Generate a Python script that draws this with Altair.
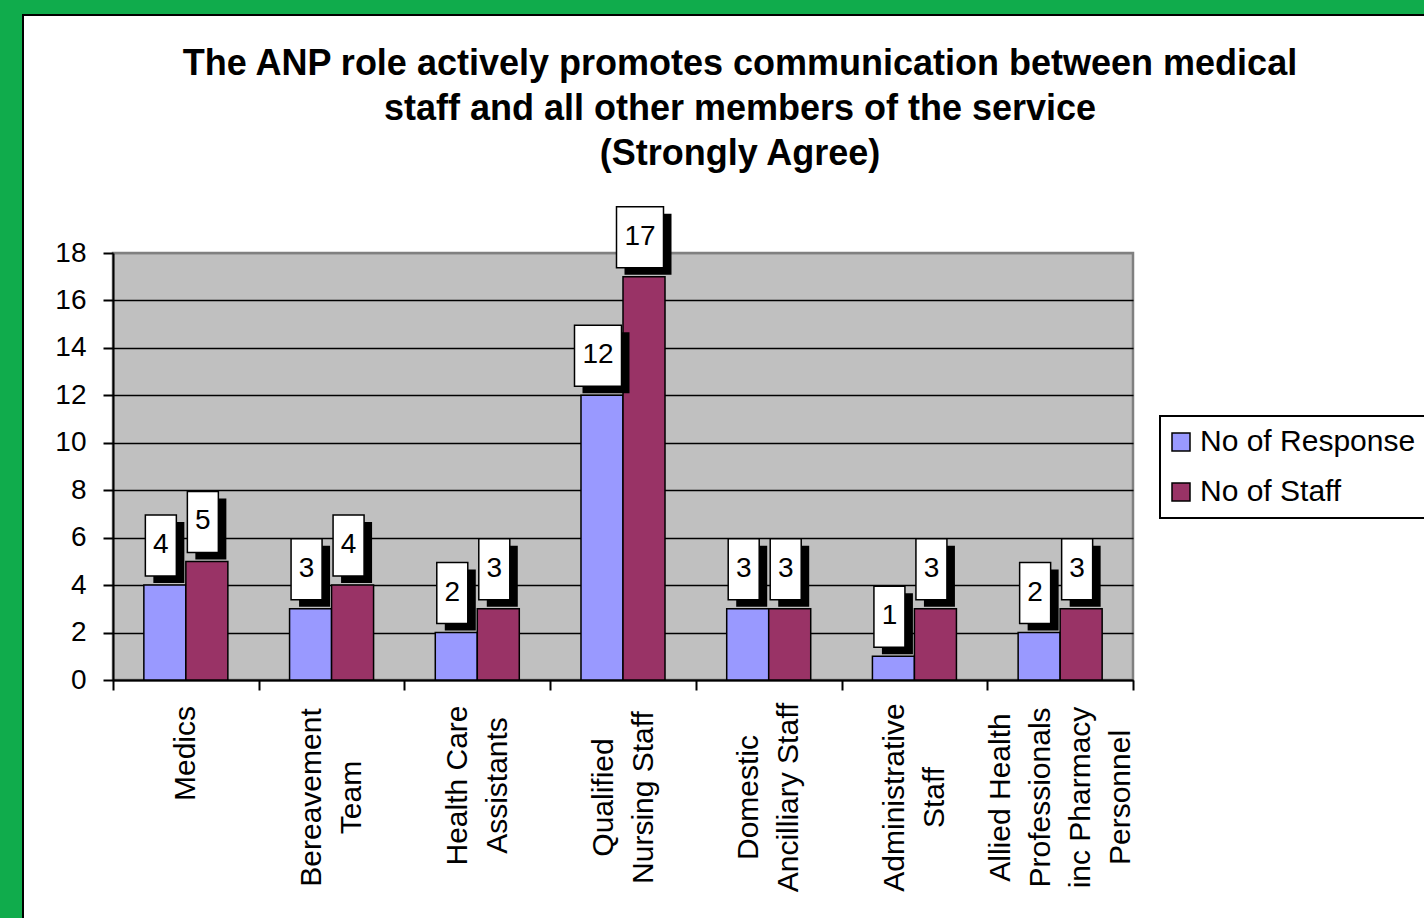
import altair as alt
import pandas as pd

# Staff groups ("|" marks a line break in the axis label)
categories = [
    "Medics",
    "Bereavement|Team",
    "Health Care|Assistants",
    "Qualified|Nursing Staff",
    "Domestic|Ancilliary Staff",
    "Administrative|Staff",
    "Allied Health|Professionals|inc Pharmacy|Personnel",
]
responses = [4, 3, 2, 12, 3, 1, 2]
staff = [5, 4, 3, 17, 3, 3, 3]

series_names = ["No of Response", "No of Staff"]
series_colors = ["#9999FF", "#993366"]
y_ticks = list(range(0, 19, 2))

title_lines = [
    "The ANP role actively promotes communication between medical",
    "staff and all other members of the service",
    "(Strongly Agree)",
]

rows = []
for cat, r, s in zip(categories, responses, staff):
    rows.append({"group": cat, "series": series_names[0], "value": r})
    rows.append({"group": cat, "series": series_names[1], "value": s})
df = pd.DataFrame(rows)

FONT = "Liberation Sans"
W, H = 1020, 427
PAD = {"left": 113, "top": 253, "right": 291, "bottom": 238}
LINE_H = 40

# distance from the tick ends to the centre of each rotated label block
label_centre = {"Medics": 63, "Health Care|Assistants": 95}
pad_expr = "107"
for name, v in label_centre.items():
    pad_expr = f"datum.value === '{name}' ? {v} : ({pad_expr})"
# shift multi-line labels so the block of lines is centred on its group
offset_expr = f"-(length(split(datum.value, '|')) - 1) * {LINE_H / 2}"

x_enc = alt.X(
    "group:N",
    sort=categories,
    scale=alt.Scale(paddingInner=0, paddingOuter=0),
    axis=alt.Axis(
        title=None,
        tickBand="extent",
        tickSize=10,
        tickWidth=2,
        tickColor="black",
        domainColor="black",
        domainWidth=2,
        grid=False,
        labelAngle=-90,
        labelAlign="center",
        labelBaseline="middle",
        labelFont=FONT,
        labelFontSize=30,
        labelColor="black",
        labelLineHeight=LINE_H,
        labelLimit=0,
        labelOverlap=False,
        labelPadding={"expr": pad_expr},
        labelOffset={"expr": offset_expr},
        labelExpr="split(datum.label, '|')",
    ),
)
xoff_enc = alt.XOffset(
    "series:N",
    sort=series_names,
    scale=alt.Scale(paddingInner=0, paddingOuter=0.7345),
)
y_enc = alt.Y(
    "value:Q",
    scale=alt.Scale(domain=[0, 18], nice=False),
    axis=alt.Axis(
        title=None,
        values=y_ticks,
        tickSize=10,
        tickWidth=2,
        tickColor="black",
        domainColor="black",
        domainWidth=2,
        grid=True,
        gridColor={"condition": {"test": "datum.value === 18", "value": "#808080"}, "value": "black"},
        gridWidth=1.6,
        labelFont=FONT,
        labelFontSize=28,
        labelColor="black",
        labelPadding=17,
    ),
)

base = alt.Chart(df)

bars = base.mark_bar(stroke="black", strokeWidth=1.5).encode(
    x=x_enc,
    xOffset=xoff_enc,
    y=y_enc,
    color=alt.Color(
        "series:N",
        sort=series_names,
        scale=alt.Scale(domain=series_names, range=series_colors),
        legend=alt.Legend(
            title=None,
            orient="none",
            legendX=1047,
            legendY=163,
            symbolType="square",
            symbolSize=324,
            symbolStrokeColor="black",
            symbolStrokeWidth=1.5,
            symbolOffset=-5,
            labelFont=FONT,
            labelFontSize=30,
            labelColor="black",
            labelOffset=4,
            labelLimit=0,
            rowPadding=20,
            padding=11,
            strokeColor="black",
            fillColor="white",
        ),
    ),
)

# value call-outs: white box with a black drop shadow above each bar
box_paths = {
    "box-narrow": "M-19.5,-70H11.5V-9H-19.5Z",
    "box-wide": "M-27.5,-70H19.5V-9H-27.5Z",
}
shadow_paths = {
    "shadow-narrow": "M-11.5,-63H19.5V-2H-11.5Z",
    "shadow-wide": "M-19.5,-63H27.5V-2H-19.5Z",
}
callout = base.transform_calculate(
    wide="length(toString(datum.value)) > 1",
    box_kind="datum.wide ? 'box-wide' : 'box-narrow'",
    shadow_kind="datum.wide ? 'shadow-wide' : 'shadow-narrow'",
)

shadows = callout.mark_point(
    filled=True, fill="black", stroke="black", strokeWidth=0, opacity=1, size=4
).encode(
    x=x_enc,
    xOffset=xoff_enc,
    y=y_enc,
    shape=alt.Shape(
        "shadow_kind:N",
        scale=alt.Scale(domain=list(shadow_paths), range=list(shadow_paths.values())),
        legend=None,
    ),
)

boxes = callout.mark_point(
    filled=True, fill="white", stroke="black", strokeWidth=1.5, opacity=1, size=4
).encode(
    x=x_enc,
    xOffset=xoff_enc,
    y=y_enc,
    shape=alt.Shape(
        "box_kind:N",
        scale=alt.Scale(domain=list(box_paths), range=list(box_paths.values())),
        legend=None,
    ),
)

labels = base.mark_text(
    font=FONT, fontSize=28, color="black", align="center", baseline="middle", dx=-4, dy=-40
).encode(
    x=x_enc,
    xOffset=xoff_enc,
    y=y_enc,
    text=alt.Text("value:Q"),
)

# slide frame: green margin and black edge of the white panel
frame_data = alt.Data(values=[{}])
green_left = alt.Chart(frame_data).mark_rect(fill="#10AC4C").encode(
    x=alt.value(-113), x2=alt.value(-91), y=alt.value(-253), y2=alt.value(700)
)
green_top = alt.Chart(frame_data).mark_rect(fill="#10AC4C").encode(
    x=alt.value(-113), x2=alt.value(1330), y=alt.value(-253), y2=alt.value(-239)
)
panel_edge = alt.Chart(frame_data).mark_rect(
    fill="white", fillOpacity=0, stroke="black", strokeWidth=2
).encode(
    x=alt.value(-90), x2=alt.value(1340), y=alt.value(-238), y2=alt.value(720)
)

chart = (
    alt.layer(bars, shadows, boxes, labels, green_left, green_top, panel_edge)
    .resolve_scale(shape="independent")
    .properties(
        width=W,
        height=H,
        padding=PAD,
        autosize=alt.AutoSizeParams(type="none"),
        background="white",
        title=alt.TitleParams(
            text=title_lines,
            font=FONT,
            fontSize=36,
            fontWeight="bold",
            color="black",
            anchor="middle",
            frame="group",
            dx=117,
            lineHeight=45,
            offset=-173,
        ),
    )
    .configure_view(fill="#C0C0C0", stroke="#808080", strokeWidth=2.5)
    .configure_legend(strokeWidth=2)
)

chart.save("out.html", embed_options={"renderer": "svg", "actions": False})
